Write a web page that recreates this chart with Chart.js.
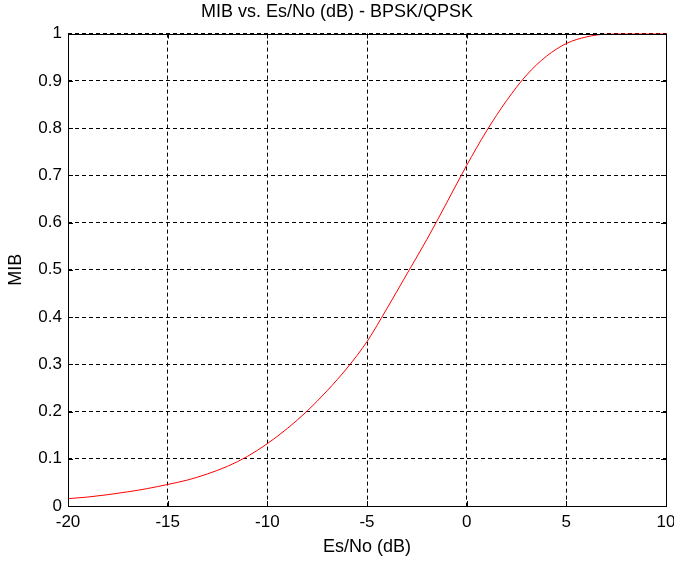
<!DOCTYPE html>
<html>
<head>
<meta charset="utf-8">
<script src="https://cdn.jsdelivr.net/npm/chart.js@4/dist/chart.umd.min.js"></script>
<style>
  html, body { margin: 0; padding: 0; background: #fff; }
  #wrap { width: 674px; height: 561px; }
</style>
</head>
<body>
<div id="wrap"><canvas id="chart" width="674" height="561"></canvas></div>
<script>
// Es/No in dB and mutual information per bit
const esNo = [-20, -19, -18, -17, -16, -15, -14, -13, -12, -11, -10, -9, -8, -7, -6, -5,
              -4, -3, -2, -1, 0, 1, 2, 3, 4, 5, 6, 7, 8, 9, 10];
const mib = [0.0155, 0.019, 0.024, 0.030, 0.037, 0.0456, 0.055, 0.068, 0.084, 0.105, 0.132,
             0.164, 0.201, 0.244, 0.292, 0.348, 0.418, 0.491, 0.564, 0.642, 0.721,
             0.794, 0.858, 0.912, 0.952, 0.979, 0.993, 0.999, 1, 1, 1];

const tickFont = { family: 'Arial, "Liberation Sans", sans-serif', size: 17 };
const labelFont = { family: 'Arial, "Liberation Sans", sans-serif', size: 18 };

// solid frame plus inward tick marks, like the original figure
const framePlugin = {
    id: 'frame',
    afterDraw(chart) {
        const { ctx, chartArea: a, scales } = chart;
        ctx.save();
        ctx.strokeStyle = '#000';
        ctx.lineWidth = 1;
        ctx.setLineDash([]);
        ctx.strokeRect(Math.round(a.left) + 0.5, Math.round(a.top) + 0.5,
            Math.round(a.right - a.left), Math.round(a.bottom - a.top));
        ctx.beginPath();
        scales.x.ticks.forEach(t => {
            const x = Math.round(scales.x.getPixelForValue(t.value)) + 0.5;
            ctx.moveTo(x, a.bottom); ctx.lineTo(x, a.bottom - 5);
            ctx.moveTo(x, a.top); ctx.lineTo(x, a.top + 5);
        });
        scales.y.ticks.forEach(t => {
            const y = Math.round(scales.y.getPixelForValue(t.value)) + 0.5;
            ctx.moveTo(a.left, y); ctx.lineTo(a.left + 5, y);
            ctx.moveTo(a.right, y); ctx.lineTo(a.right - 5, y);
        });
        ctx.stroke();
        ctx.restore();
    }
};

new Chart(document.getElementById('chart').getContext('2d'), {
    type: 'line',
    data: {
        datasets: [{
            data: esNo.map((x, i) => ({ x: x, y: mib[i] })),
            borderColor: 'rgb(255,0,0)',
            borderWidth: 1,
            pointRadius: 0,
            cubicInterpolationMode: 'monotone',
            fill: false
        }]
    },
    options: {
        responsive: false,
        animation: false,
        layout: { padding: 0 },
        plugins: {
            legend: { display: false },
            tooltip: { enabled: false },
            title: {
                display: true,
                text: 'MIB vs. Es/No (dB) - BPSK/QPSK',
                color: '#000',
                font: { ...labelFont, weight: 'normal' },
                padding: { top: 1, bottom: 11 }
            }
        },
        scales: {
            x: {
                type: 'linear',
                min: -20,
                max: 10,
                ticks: { stepSize: 5, color: '#000', font: tickFont, padding: 6 },
                grid: { color: '#000', drawTicks: false },
                border: { display: false, dash: [4, 3] },
                title: { display: true, text: 'Es/No (dB)', color: '#000', font: labelFont, padding: { top: 0, bottom: 3 } },
                afterFit(scale) {
                    scale.height = 55;
                    scale.paddingRight = 8;
                }
            },
            y: {
                min: 0,
                max: 1,
                ticks: {
                    stepSize: 0.1,
                    color: '#000',
                    font: tickFont,
                    padding: 6,
                    callback: v => String(Math.round(v * 10) / 10)
                },
                grid: { color: '#000', drawTicks: false },
                border: { display: false, dash: [4, 3] },
                title: { display: true, text: 'MIB', color: '#000', font: labelFont, padding: 5 },
                afterFit(scale) { scale.width = 68; }
            }
        }
    },
    plugins: [framePlugin]
});
</script>
</body>
</html>
